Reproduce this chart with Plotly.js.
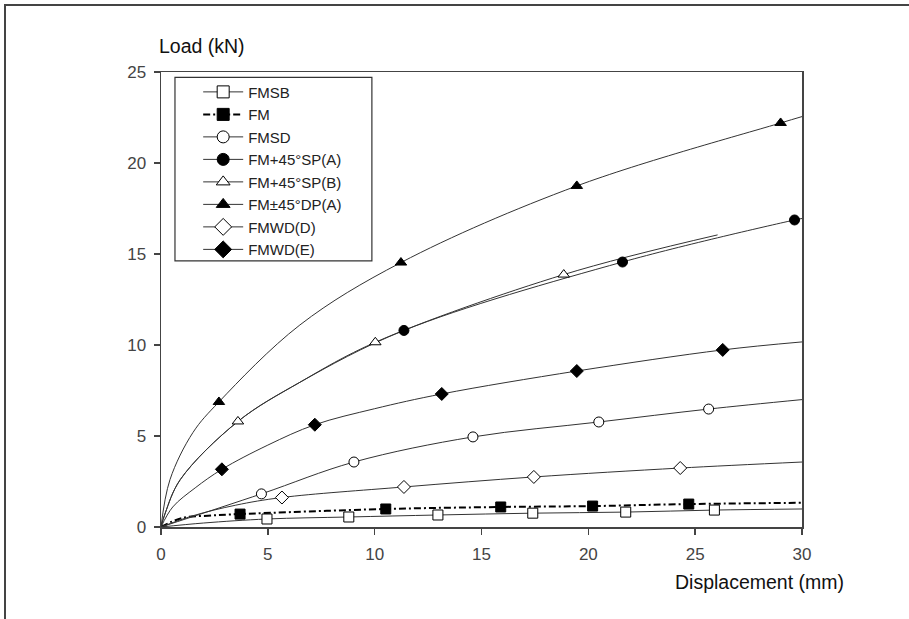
<!DOCTYPE html>
<html>
<head>
<meta charset="utf-8">
<script src="https://cdn.plot.ly/plotly-3.0.1.min.js"></script>
<style>
  html, body { margin: 0; padding: 0; background: #fff; }
  #wrap { position: relative; width: 909px; height: 619px; }
  #chart { position: absolute; left: 0; top: 0; width: 909px; height: 619px; }
  #frameTop { position: absolute; left: 4px; top: 4px; width: 905px; height: 2px; background: #444; pointer-events: none; }
  #frameLeft { position: absolute; left: 4px; top: 4px; width: 2px; height: 615px; background: #444; pointer-events: none; }
</style>
</head>
<body>
<div id="wrap">
  <div id="chart"></div>
  <div id="frameTop"></div>
  <div id="frameLeft"></div>
</div>
<script>
// ---- Data ----
const seriesNames = ["FMSB", "FM", "FMSD", "FM+45°SP(A)", "FM+45°SP(B)", "FM±45°DP(A)", "FMWD(D)", "FMWD(E)"];

// measured (marked) points
const fmsbX = [4.96, 8.79, 12.96, 17.4, 21.75, 25.9];
const fmsbY = [0.44, 0.55, 0.66, 0.76, 0.82, 0.93];
const fmX = [3.7, 10.52, 15.9, 20.2, 24.7];
const fmY = [0.71, 0.99, 1.1, 1.15, 1.26];
const fmsdX = [4.7, 9.03, 14.6, 20.49, 25.63];
const fmsdY = [1.82, 3.57, 4.95, 5.77, 6.48];
const spaX = [11.37, 21.6, 29.65];
const spaY = [10.8, 14.56, 16.87];
const spbX = [3.6, 10.03, 18.85];
const spbY = [5.8, 10.15, 13.87];
const dpaX = [2.71, 11.23, 19.46, 29.0];
const dpaY = [6.87, 14.53, 18.74, 22.2];
const wddX = [5.66, 11.37, 17.45, 24.3];
const wddY = [1.62, 2.2, 2.75, 3.24];
const wdeX = [2.85, 7.2, 13.14, 19.46, 26.29];
const wdeY = [3.17, 5.62, 7.31, 8.57, 9.73];

// fitted curves
const fmsbCurveX = [0, 2.0, 4.96, 8.79, 12.96, 17.4, 21.75, 25.9, 30];
const fmsbCurveY = [0, 0.22, 0.44, 0.55, 0.66, 0.76, 0.82, 0.93, 0.99];
const fmCurveX = [0, 1.0, 2.2, 3.7, 10.52, 15.9, 20.2, 24.7, 30];
const fmCurveY = [0, 0.5, 0.62, 0.71, 0.99, 1.1, 1.15, 1.26, 1.33];
const fmsdCurveX = [0, 4.7, 9.03, 14.6, 20.49, 25.63, 30];
const fmsdCurveY = [0, 1.82, 3.57, 4.95, 5.77, 6.48, 7.0];
const spaCurveX = [0, 0.2, 0.9, 3.6, 6.5, 11.37, 21.6, 29.65, 30];
const spaCurveY = [0, 0.77, 2.6, 5.8, 7.95, 10.8, 14.56, 16.87, 16.95];
const spbCurveX = [0, 0.2, 0.9, 3.6, 6.5, 10.03, 18.85, 26.05];
const spbCurveY = [0, 0.77, 2.6, 5.8, 7.95, 10.15, 13.87, 16.05];
const dpaCurveX = [0, 0.42, 1.5, 2.71, 6.5, 11.23, 19.46, 29.0, 30];
const dpaCurveY = [0, 2.6, 5.2, 6.87, 11.1, 14.53, 18.74, 22.2, 22.55];
const wddCurveX = [0, 1.5, 3.5, 5.66, 11.37, 17.45, 24.3, 30];
const wddCurveY = [0, 0.62, 1.2, 1.62, 2.2, 2.75, 3.24, 3.57];
const wdeCurveX = [0, 0.55, 1.6, 2.85, 5.0, 7.2, 10.0, 13.14, 19.46, 26.29, 30];
const wdeCurveY = [0, 1.1, 2.15, 3.17, 4.5, 5.62, 6.5, 7.31, 8.57, 9.73, 10.17];

const xTicks = [0, 5, 10, 15, 20, 25, 30];
const yTicks = [0, 5, 10, 15, 20, 25];

// ---- Styles ----
const FONT = "Liberation Sans, Arial, Helvetica, sans-serif";
const lineCol = "#333";
const styles = [
  {sym: "square", fill: "#fff", dash: "solid", lw: 1},
  {sym: "square", fill: "#000", dash: "7px,3px,2px,3px", lw: 2},
  {sym: "circle", fill: "#fff", dash: "solid", lw: 1},
  {sym: "circle", fill: "#000", dash: "solid", lw: 1},
  {sym: "triangle-up", fill: "#fff", dash: "solid", lw: 1},
  {sym: "triangle-up", fill: "#000", dash: "solid", lw: 1},
  {sym: "diamond", fill: "#fff", dash: "solid", lw: 1},
  {sym: "diamond", fill: "#000", dash: "solid", lw: 1}
];
const markerSets = [[fmsbX, fmsbY], [fmX, fmY], [fmsdX, fmsdY], [spaX, spaY], [spbX, spbY], [dpaX, dpaY], [wddX, wddY], [wdeX, wdeY]];
const curveSets = [[fmsbCurveX, fmsbCurveY], [fmCurveX, fmCurveY], [fmsdCurveX, fmsdCurveY], [spaCurveX, spaCurveY], [spbCurveX, spbCurveY], [dpaCurveX, dpaCurveY], [wddCurveX, wddCurveY], [wdeCurveX, wdeCurveY]];

const traces = [];
// curves
curveSets.forEach(function (c, i) {
  const s = styles[i];
  traces.push({
    x: c[0], y: c[1], type: "scatter", mode: "lines", showlegend: false, hoverinfo: "skip",
    line: {color: i === 1 ? "#000" : lineCol, width: s.lw, dash: s.dash, shape: "spline", smoothing: 1}
  });
});
// markers
markerSets.forEach(function (m, i) {
  const s = styles[i];
  traces.push({
    x: m[0], y: m[1], type: "scatter", mode: "markers", showlegend: false, name: seriesNames[i],
    marker: {symbol: s.sym, size: s.sym === "diamond" ? 10 : 10, color: s.fill, line: {color: "#000", width: 1}}
  });
});
// legend entries
seriesNames.forEach(function (n, i) {
  const s = styles[i];
  traces.push({
    x: [null], y: [null], type: "scatter", mode: "lines+markers", name: n, showlegend: true,
    line: {color: i === 1 ? "#000" : lineCol, width: s.lw, dash: s.dash},
    marker: {symbol: s.sym, size: s.sym === "diamond" ? 13 : 12, color: s.fill, line: {color: "#000", width: 1}}
  });
});

const layout = {
  width: 909, height: 619,
  margin: {l: 161, r: 107, t: 72, b: 92, pad: 0},
  paper_bgcolor: "#fff", plot_bgcolor: "#fff",
  font: {family: FONT, color: "#222"},
  showlegend: true,
  legend: {
    x: 0.058, y: 0.992, xanchor: "left", yanchor: "top",
    bgcolor: "rgba(255,255,255,0)", borderwidth: 0,
    itemwidth: 40, font: {family: FONT, size: 15, color: "#222"}, traceorder: "normal"
  },
  xaxis: {
    range: [0, 30], tickvals: xTicks, ticktext: xTicks.map(String),
    showgrid: false, zeroline: false, showline: true, linecolor: "#444", linewidth: 1.5, mirror: true,
    ticks: "outside", ticklen: 6, tickcolor: "#444", tickwidth: 1.5, ticklabelstandoff: 5,
    tickfont: {family: FONT, size: 17, color: "#444"}, fixedrange: true
  },
  yaxis: {
    range: [0, 25], tickvals: yTicks, ticktext: yTicks.map(String),
    showgrid: false, zeroline: false, showline: true, linecolor: "#444", linewidth: 1.5, mirror: true,
    ticks: "outside", ticklen: 6, tickcolor: "#444", tickwidth: 1.5, ticklabelstandoff: 4,
    tickfont: {family: FONT, size: 17, color: "#444"}, fixedrange: true
  },
  shapes: [{
    type: "rect", xref: "paper", yref: "paper",
    x0: 0.0218, x1: 0.329, y0: 0.585, y1: 0.988,
    line: {color: "#333", width: 1.2}, fillcolor: "rgba(0,0,0,0)", layer: "above"
  }],
  annotations: [
    {text: "Load (kN)", xref: "paper", yref: "paper", x: -0.0062, y: 1.058, xanchor: "left", yanchor: "middle",
     showarrow: false, font: {family: FONT, size: 19.5, color: "#111"}},
    {text: "Displacement (mm)", xref: "paper", yref: "paper", x: 1.0686, y: -0.121, xanchor: "right", yanchor: "middle",
     showarrow: false, font: {family: FONT, size: 19.5, color: "#111"}}
  ]
};

Plotly.newPlot("chart", traces, layout, {staticPlot: true, displayModeBar: false});
</script>
</body>
</html>
